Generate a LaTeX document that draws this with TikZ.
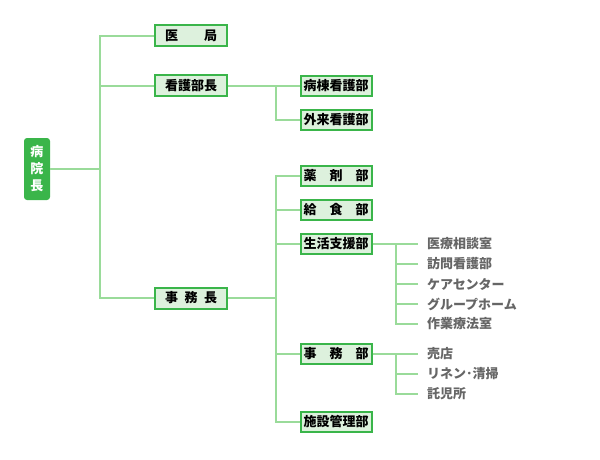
\documentclass[tikz,border=0pt]{standalone}
\usepackage{fontspec}
\setmainfont{Noto Sans CJK JP}
\usetikzlibrary{positioning}

\definecolor{boxgreen}{HTML}{3AB54A}
\definecolor{boxfill}{HTML}{DDF1DD}
\definecolor{linegreen}{HTML}{9ADB9A}
\definecolor{subgray}{HTML}{666666}

\begin{document}
\begin{tikzpicture}[x=1pt,y=-1pt,
    every node/.style={font=\fontsize{13}{17}\selectfont\bfseries},
    head/.style={fill=boxgreen,text=white,rounded corners=3pt,align=center,
        minimum width=26pt,minimum height=62pt,inner sep=0pt},
    dept/.style={draw=boxgreen,fill=boxfill,line width=2pt,
        minimum width=72pt,minimum height=21pt,inner sep=0pt},
    sect/.style={dept,minimum width=71pt,minimum height=20pt},
    unit/.style={text=subgray,anchor=west,inner sep=0pt,outer xsep=9pt},
    link/.style={draw=linegreen,line width=2pt}]
\useasboundingbox (0,0) rectangle (600,460);

\coordinate (trunk) at (100,0);
\coordinate (kfork) at (276,0);
\coordinate (sfork) at (396,0);

% head
\node [head] (byoin) at (37,169) {病\\院\\長};

% first level
\node [dept] (ikyoku)  at (191,36)  {医\hspace{2em}局};
\node [dept] (kango)   at (191,86)  {看護部長};
\node [dept] (jimucho) at (191,298) {事\hspace{0.5em}務\hspace{0.5em}長};

% second level
\node [sect] (byoto)    at (336,86)  {病棟看護部};
\node [sect] (gairai)   at (336,120) {外来看護部};
\node [sect] (yakuzai)  at (336,176) {薬\hspace{1em}剤\hspace{1em}部};
\node [sect] (kyushoku) at (336,210) {給\hspace{1em}食\hspace{1em}部};
\node [sect] (seikatsu) at (336,244) {生活支援部};
\node [sect] (jimubu)   at (336,354) {事\hspace{1em}務\hspace{1em}部};
\node [sect] (shisetsu) at (336,422) {施設管理部};

% third level
\node [unit] (iryo)    at (418,244) {医療相談室};
\node [unit] (homon)   at (418,264) {訪問看護部};
\node [unit] (care)    at (418,284) {ケアセンター};
\node [unit] (group)   at (418,304) {グループホーム};
\node [unit] (sagyo)   at (418,324) {作業療法室};
\node [unit] (baiten)  at (418,354) {売店};
\node [unit] (linen)   at (418,374) {リネン･清掃};
\node [unit] (takuji)  at (418,394) {託児所};

% connectors
\draw [link] (byoin.east) -- (byoin.east -| trunk);
\draw [link] (ikyoku.west) -- (ikyoku.west -| trunk) -- (jimucho.west -| trunk) -- (jimucho.west);
\draw [link] (kango.west) -- (kango.west -| trunk);

\draw [link] (kango.east) -- (byoto.west);
\draw [link] (byoto.west -| kfork) -- (gairai.west -| kfork) -- (gairai.west);
\draw [link] (jimucho.east) -- (jimucho.east -| kfork);
\draw [link] (yakuzai.west) -- (yakuzai.west -| kfork) -- (shisetsu.west -| kfork) -- (shisetsu.west);
\foreach \n in {kyushoku,seikatsu,jimubu}
    \draw [link] (\n.west) -- (\n.west -| kfork);

\draw [link] (seikatsu.east) -- (iryo.west);
\draw [link] (iryo.west -| sfork) -- (sagyo.west -| sfork) -- (sagyo.west);
\foreach \n in {homon,care,group}
    \draw [link] (\n.west) -- (\n.west -| sfork);
\draw [link] (jimubu.east) -- (baiten.west);
\draw [link] (baiten.west -| sfork) -- (takuji.west -| sfork) -- (takuji.west);
\draw [link] (linen.west) -- (linen.west -| sfork);
\end{tikzpicture}
\end{document}
